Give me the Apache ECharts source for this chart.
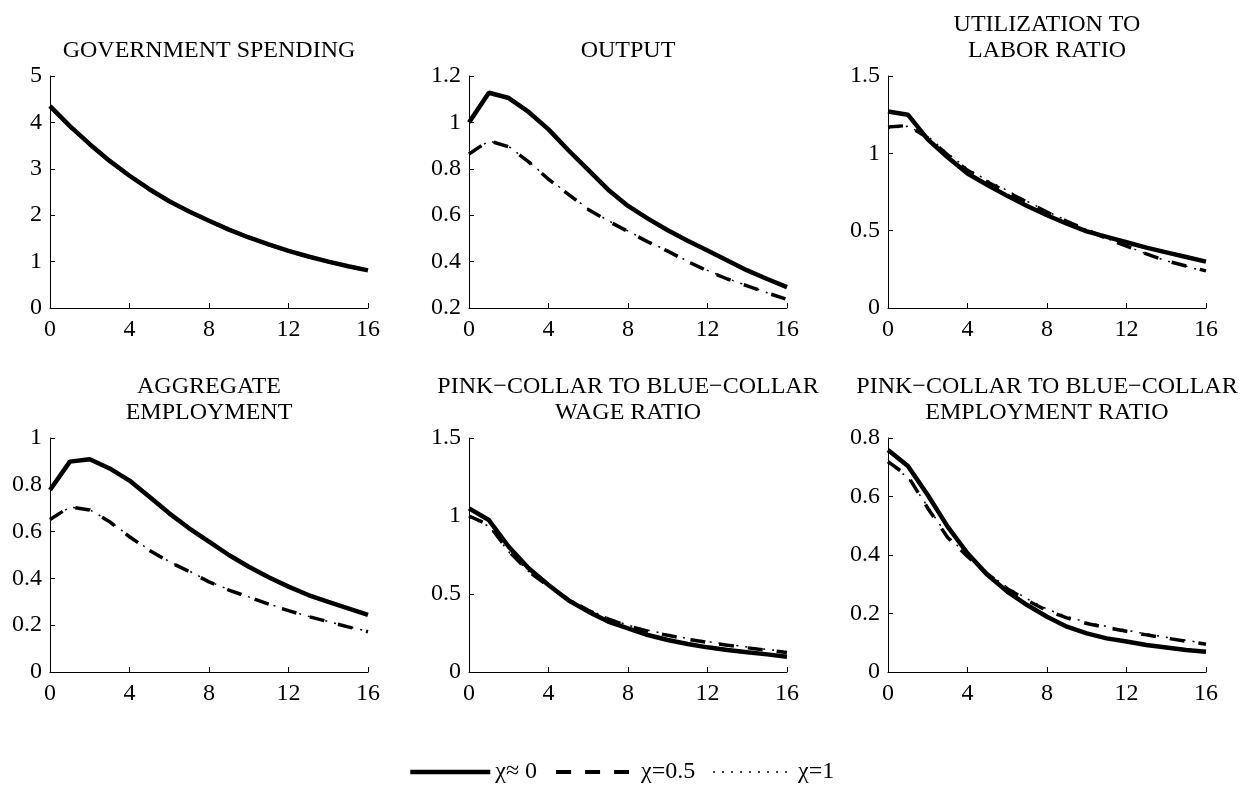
<!DOCTYPE html>
<html>
<head>
<meta charset="utf-8">
<script src="https://cdn.jsdelivr.net/npm/echarts@6/dist/echarts.min.js"></script>
<style>
  html, body { margin: 0; padding: 0; background: #fff; }
  #myChart { width: 1248px; height: 790px; }
</style>
</head>
<body>
<div id="myChart"></div>
<script>
// quarters after the shock
const quarters = [0, 1, 2, 3, 4, 5, 6, 7, 8, 9, 10, 11, 12, 13, 14, 15, 16]
const xTicks = { min: 0, max: 16, interval: 4 }
const seriesNames = ['χ≈ 0', 'χ=0.5', 'χ=1']

const titles = [
  'GOVERNMENT SPENDING',
  'OUTPUT',
  'UTILIZATION TO\nLABOR RATIO',
  'AGGREGATE\nEMPLOYMENT',
  'PINK−COLLAR TO BLUE−COLLAR\nWAGE RATIO',
  'PINK−COLLAR TO BLUE−COLLAR\nEMPLOYMENT RATIO'
]
// y axis ranges [min, max, interval]
const yRanges = [
  [0, 5, 1],
  [0.2, 1.2, 0.2],
  [0, 1.5, 0.5],
  [0, 1, 0.2],
  [0, 1.5, 0.5],
  [0, 0.8, 0.2]
]

// government spending (same for every chi)
const govSpending = [4.35, 3.92, 3.53, 3.17, 2.85, 2.56, 2.30, 2.08, 1.88, 1.69, 1.52, 1.37, 1.23, 1.11, 1.00, 0.90, 0.81]

// output
const outputChi0 = [1.00, 1.128, 1.105, 1.045, 0.97, 0.88, 0.795, 0.71, 0.64, 0.585, 0.535, 0.49, 0.448, 0.405, 0.362, 0.325, 0.29]
const outputChi05 = [0.864, 0.921, 0.895, 0.83, 0.755, 0.69, 0.625, 0.575, 0.53, 0.485, 0.445, 0.40, 0.36, 0.325, 0.295, 0.265, 0.237]
const outputChi1 = [0.864, 0.92, 0.896, 0.832, 0.757, 0.692, 0.627, 0.577, 0.532, 0.487, 0.446, 0.402, 0.362, 0.327, 0.296, 0.266, 0.238]

// utilization to labor ratio
const utilChi0 = [1.27, 1.25, 1.09, 0.975, 0.87, 0.795, 0.725, 0.66, 0.60, 0.545, 0.495, 0.46, 0.425, 0.39, 0.36, 0.33, 0.30]
const utilChi05 = [1.17, 1.18, 1.10, 0.99, 0.89, 0.815, 0.75, 0.685, 0.62, 0.56, 0.505, 0.45, 0.40, 0.35, 0.305, 0.272, 0.24]
const utilChi1 = [1.16, 1.175, 1.11, 1.00, 0.90, 0.825, 0.76, 0.69, 0.625, 0.565, 0.505, 0.45, 0.40, 0.35, 0.305, 0.27, 0.235]

// aggregate employment
const emplChi0 = [0.778, 0.899, 0.909, 0.870, 0.818, 0.749, 0.678, 0.614, 0.557, 0.50, 0.45, 0.405, 0.365, 0.329, 0.30, 0.272, 0.244]
const emplChi05 = [0.652, 0.706, 0.692, 0.642, 0.578, 0.52, 0.47, 0.43, 0.385, 0.35, 0.32, 0.29, 0.262, 0.237, 0.215, 0.193, 0.172]
const emplChi1 = [0.65, 0.705, 0.693, 0.644, 0.58, 0.522, 0.472, 0.432, 0.387, 0.352, 0.321, 0.291, 0.263, 0.238, 0.216, 0.194, 0.173]

// pink-collar to blue-collar wage ratio
const wageChi0 = [1.049, 0.974, 0.803, 0.665, 0.558, 0.46, 0.387, 0.323, 0.28, 0.237, 0.205, 0.18, 0.158, 0.141, 0.126, 0.113, 0.098]
const wageChi05 = [1.00, 0.942, 0.775, 0.645, 0.55, 0.465, 0.395, 0.34, 0.295, 0.262, 0.235, 0.21, 0.19, 0.172, 0.155, 0.14, 0.125]
const wageChi1 = [0.99, 0.935, 0.77, 0.645, 0.555, 0.47, 0.40, 0.345, 0.30, 0.268, 0.24, 0.215, 0.195, 0.177, 0.16, 0.145, 0.13]

// pink-collar to blue-collar employment ratio
const ratioChi0 = [0.759, 0.704, 0.605, 0.497, 0.406, 0.332, 0.275, 0.229, 0.189, 0.155, 0.132, 0.115, 0.104, 0.092, 0.084, 0.075, 0.069]
const ratioChi05 = [0.719, 0.67, 0.56, 0.46, 0.395, 0.335, 0.285, 0.245, 0.21, 0.185, 0.166, 0.152, 0.139, 0.127, 0.116, 0.105, 0.095]
const ratioChi1 = [0.715, 0.665, 0.565, 0.465, 0.398, 0.338, 0.29, 0.25, 0.215, 0.19, 0.17, 0.156, 0.143, 0.13, 0.119, 0.108, 0.098]

const panels = [
  [govSpending, govSpending, govSpending],
  [outputChi0, outputChi05, outputChi1],
  [utilChi0, utilChi05, utilChi1],
  [emplChi0, emplChi05, emplChi1],
  [wageChi0, wageChi05, wageChi1],
  [ratioChi0, ratioChi05, ratioChi1]
]

const font = 'Liberation Serif'
const lefts = [50, 469, 888]
const tops = [76, 438]
const heights = [232, 234]
const plotWidth = 318
const lineStyles = [
  { type: 'solid', width: 4.5 },
  { type: [15, 14], width: 3.5 },
  { type: [2, 7], width: 1.5 }
]

let grids = []
let xAxes = []
let yAxes = []
let titleList = []
let series = []

panels.forEach((panel, i) => {
  let row = Math.floor(i / 3)
  let col = i % 3
  grids.push({ left: lefts[col], top: tops[row], width: plotWidth, height: heights[row] })
  xAxes.push({
    type: 'value',
    gridIndex: i,
    min: xTicks.min,
    max: xTicks.max,
    interval: xTicks.interval,
    axisLine: { onZero: false, lineStyle: { color: '#000', width: 1 } },
    axisTick: { inside: true, length: 5, lineStyle: { color: '#000' } },
    axisLabel: { margin: 10, color: '#000', fontFamily: font, fontSize: 24 },
    splitLine: { show: false }
  })
  yAxes.push({
    type: 'value',
    gridIndex: i,
    min: yRanges[i][0],
    max: yRanges[i][1],
    interval: yRanges[i][2],
    axisLine: { show: true, onZero: false, lineStyle: { color: '#000', width: 1 } },
    axisTick: { show: true, inside: true, length: 5, lineStyle: { color: '#000' } },
    axisLabel: { margin: 8, color: '#000', fontFamily: font, fontSize: 24 },
    splitLine: { show: false }
  })
  let twoLines = titles[i].indexOf('\n') >= 0
  titleList.push({
    text: titles[i],
    left: lefts[col] + plotWidth / 2,
    top: row === 0 ? (twoLines ? 12 : 38) : 374,
    textAlign: 'center',
    padding: 0,
    textStyle: { color: '#000', fontFamily: font, fontSize: 24, fontWeight: 'normal', lineHeight: 26 }
  })
  panel.forEach((values, k) => {
    series.push({
      name: seriesNames[k],
      type: 'line',
      xAxisIndex: i,
      yAxisIndex: i,
      symbol: 'none',
      data: quarters.map((q, j) => [q, values[j]]),
      lineStyle: { color: '#000', type: lineStyles[k].type, width: lineStyles[k].width, cap: 'butt' },
      itemStyle: { color: '#000' }
    })
  })
})

let myChart = echarts.init(document.getElementById('myChart'))
myChart.setOption({
  animation: false,
  backgroundColor: '#fff',
  title: titleList,
  grid: grids,
  xAxis: xAxes,
  yAxis: yAxes,
  legend: {
    left: 408,
    top: 760,
    padding: 0,
    itemWidth: 80,
    itemHeight: 14,
    itemGap: 17,
    // hide the marker circle, keep only the line sample
    itemStyle: { opacity: 0, borderWidth: 0 },
    textStyle: { color: '#000', fontFamily: font, fontSize: 24 },
    data: [
      { name: seriesNames[0], lineStyle: { width: 4.5 } },
      { name: seriesNames[1], lineStyle: { width: 4 } },
      { name: seriesNames[2], lineStyle: { width: 1.5 } }
    ]
  },
  series: series
})
</script>
</body>
</html>
